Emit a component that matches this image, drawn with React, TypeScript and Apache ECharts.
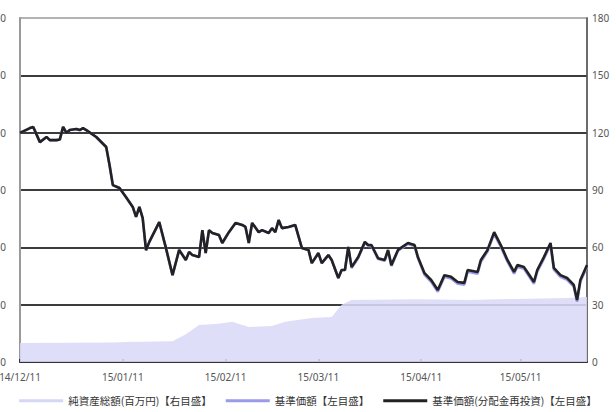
import React, { useEffect, useRef } from 'react';
import * as echarts from 'echarts';

const navDates = [
  '2014-12-11','2014-12-14','2014-12-15','2014-12-17','2014-12-19','2014-12-20','2014-12-22','2014-12-23','2014-12-24','2014-12-25',
  '2014-12-26','2014-12-28','2014-12-29','2014-12-30','2014-12-31','2015-01-03','2015-01-06','2015-01-07','2015-01-08','2015-01-10',
  '2015-01-12','2015-01-14','2015-01-15','2015-01-16','2015-01-17','2015-01-18','2015-01-19','2015-01-22','2015-01-24','2015-01-26',
  '2015-01-28','2015-01-30','2015-01-31','2015-02-01','2015-02-03','2015-02-04','2015-02-05','2015-02-06','2015-02-07','2015-02-09',
  '2015-02-10','2015-02-12','2015-02-14','2015-02-16','2015-02-17','2015-02-18','2015-02-19','2015-02-21','2015-02-22','2015-02-24',
  '2015-02-25','2015-02-26','2015-02-27','2015-02-28','2015-03-02','2015-03-04','2015-03-06','2015-03-08','2015-03-09','2015-03-11',
  '2015-03-12','2015-03-14','2015-03-15','2015-03-17','2015-03-18','2015-03-19','2015-03-20','2015-03-21','2015-03-23','2015-03-25',
  '2015-03-26','2015-03-27','2015-03-29','2015-03-31','2015-04-01','2015-04-02','2015-04-04','2015-04-07','2015-04-09','2015-04-10',
  '2015-04-12','2015-04-14','2015-04-16','2015-04-18','2015-04-20','2015-04-22','2015-04-24','2015-04-25','2015-04-28','2015-04-29',
  '2015-05-01','2015-05-03','2015-05-05','2015-05-07','2015-05-09','2015-05-10','2015-05-12','2015-05-13','2015-05-15','2015-05-16',
  '2015-05-18','2015-05-20','2015-05-21','2015-05-23','2015-05-25','2015-05-27','2015-05-28','2015-05-29','2015-05-31',
];

// 基準価額(分配金再投資)
const navReinvest = [
  7990, 8160, 8200, 7670, 7850, 7740, 7740, 7760, 8200, 7990,
  8090, 8130, 8090, 8160, 8090, 7850, 7500, 6870, 6170, 6070,
  5750, 5410, 5060, 5410, 5020, 3900, 4190, 4880, 3980, 3030,
  3910, 3560, 3840, 3730, 3660, 4600, 3800, 4600, 4500, 4430,
  4150, 4530, 4850, 4780, 4710, 4150, 4850, 4530, 4600, 4500,
  4670, 4530, 4950, 4670, 4710, 4780, 3980, 3910, 3450, 3800,
  3450, 3730, 3560, 2930, 3210, 3210, 4010, 3310, 3660, 4190,
  4080, 4080, 3620, 3560, 3910, 3380, 3910, 4150, 4080, 3660,
  3100, 2860, 2510, 3030, 2970, 2790, 2760, 3210, 3140, 3560,
  3910, 4530, 4080, 3560, 3140, 3380, 3310, 3140, 2790, 3210,
  3660, 4150, 3280, 3030, 2930, 2690, 2160, 2860, 3380,
];

// 基準価額
const navBase = [
  7990, 8160, 8200, 7670, 7850, 7740, 7740, 7760, 8200, 7990,
  8090, 8130, 8090, 8160, 8090, 7850, 7500, 6870, 6170, 6070,
  5750, 5410, 5060, 5410, 5020, 3900, 4190, 4880, 3980, 3030,
  3910, 3560, 3840, 3730, 3660, 4600, 3800, 4600, 4500, 4430,
  4150, 4530, 4850, 4780, 4710, 4150, 4850, 4530, 4600, 4500,
  4670, 4530, 4950, 4670, 4710, 4780, 3980, 3910, 3450, 3800,
  3450, 3730, 3560, 2930, 3210, 3210, 4010, 3280, 3630, 4160,
  4050, 4050, 3590, 3530, 3880, 3350, 3880, 4120, 4050, 3630,
  3040, 2800, 2450, 2970, 2910, 2730, 2700, 3150, 3080, 3500,
  3850, 4470, 4020, 3500, 3080, 3320, 3250, 3080, 2730, 3150,
  3600, 4090, 3220, 2970, 2870, 2630, 2100, 2800, 3320,
];

// 純資産総額(百万円)
const assetDates = [
  '2014-12-11','2015-01-08','2015-01-12','2015-01-26','2015-01-30','2015-02-03','2015-02-09','2015-02-13','2015-02-18','2015-02-25',
  '2015-03-01','2015-03-09','2015-03-15','2015-03-18','2015-03-21','2015-04-10','2015-04-25','2015-05-10','2015-05-25','2015-05-31',
];
const assetValues = [
  10.0, 10.2, 10.5, 10.8, 14.5, 19.4, 20.0, 21.0, 18.3, 18.8,
  21.0, 23.0, 23.5, 30.0, 32.5, 32.8, 32.5, 33.0, 33.5, 34.0,
];

const xTickDates = ['2014-12-11', '2015-01-11', '2015-02-11', '2015-03-11', '2015-04-11', '2015-05-11'];
const xMinDate = '2014-12-11';
const xMaxDate = '2015-05-31';

const leftMin = 0, leftMax = 12000, leftInterval = 2000;
const rightMin = 0, rightMax = 180, rightInterval = 30;

const legendNames = ['純資産総額(百万円)【右目盛】', '基準価額【左目盛】', '基準価額(分配金再投資)【左目盛】'];

const ts = (s: string) => {
  const [y, m, d] = s.split('-').map(Number);
  return Date.UTC(y, m - 1, d);
};
const pad = (n: number) => (n < 10 ? '0' + n : '' + n);

export default function App() {
  const ref = useRef<HTMLDivElement>(null);
  useEffect(() => {
    if (!ref.current) return;
    const chart = echarts.init(ref.current, undefined, { renderer: 'svg' });
    const ticks = xTickDates.map(ts);
    const font = "'Noto Sans', 'Noto Sans CJK JP', sans-serif";
    chart.setOption({
      animation: false,
      backgroundColor: '#fff',
      textStyle: { fontFamily: font },
      grid: {
        left: 20, right: 29, top: 18, bottom: 50,
        containLabel: false,
        outerBoundsMode: 'none',
        show: true, borderColor: '#9a9a9a', borderWidth: 1.5, backgroundColor: '#fff',
      },
      legend: {
        bottom: 1,
        left: 'center',
        icon: 'rect',
        itemWidth: 44,
        itemHeight: 3,
        itemGap: 14,
        textStyle: { fontSize: 10.5, color: '#333', fontFamily: "'Noto Sans CJK JP', sans-serif" },
        data: legendNames,
      },
      xAxis: {
        type: 'value',
        min: ts(xMinDate),
        max: ts(xMaxDate),
        axisLine: { show: true, lineStyle: { color: '#333', width: 2 } },
        axisTick: { show: true, inside: true, length: 3, customValues: ticks, lineStyle: { color: '#333', width: 2 } },
        axisLabel: {
          customValues: ticks,
          color: '#555',
          fontSize: 10,
          margin: 10,
          formatter: (v: number) => {
            const d = new Date(v);
            return pad(d.getUTCFullYear() % 100) + '/' + pad(d.getUTCMonth() + 1) + '/' + pad(d.getUTCDate());
          },
        },
        splitLine: { show: false },
      },
      yAxis: [
        {
          type: 'value',
          position: 'left',
          min: leftMin, max: leftMax, interval: leftInterval,
          axisLine: { show: true, lineStyle: { color: '#9a9a9a', width: 2 } },
          axisTick: { show: false },
          axisLabel: {
            color: '#555', fontSize: 10, margin: 14,
            formatter: (v: number) => v.toLocaleString('en-US'),
          },
          splitLine: { show: true, showMinLine: false, showMaxLine: false, lineStyle: { color: '#3c3c3c', width: 1.8 } },
        },
        {
          type: 'value',
          position: 'right',
          min: rightMin, max: rightMax, interval: rightInterval,
          axisLine: { show: true, lineStyle: { color: '#555', width: 1.5 } },
          axisTick: { show: false },
          axisLabel: { color: '#555', fontSize: 10, margin: 5 },
          splitLine: { show: false },
        },
      ],
      series: [
        {
          name: legendNames[0],
          type: 'line',
          yAxisIndex: 1,
          data: assetDates.map((d, i) => [ts(d), assetValues[i]]),
          showSymbol: false,
          lineStyle: { width: 0, color: '#d6d6f6' },
          itemStyle: { color: '#d6d6f6' },
          areaStyle: { color: '#d9d9f7', opacity: 0.88 },
          z: 1,
        },
        {
          name: legendNames[1],
          type: 'line',
          yAxisIndex: 0,
          data: navDates.map((d, i) => [ts(d), navBase[i]]),
          showSymbol: false,
          lineStyle: { width: 2.6, color: '#9a9aee' },
          itemStyle: { color: '#9a9aee' },
          z: 2,
        },
        {
          name: legendNames[2],
          type: 'line',
          yAxisIndex: 0,
          data: navDates.map((d, i) => [ts(d), navReinvest[i]]),
          showSymbol: false,
          lineStyle: { width: 2.6, color: '#222' },
          itemStyle: { color: '#222' },
          z: 3,
        },
      ],
    });
    return () => chart.dispose();
  }, []);
  return <div ref={ref} style={{ position: 'fixed', left: 0, top: 0, width: 616, height: 412 }} />;
}
